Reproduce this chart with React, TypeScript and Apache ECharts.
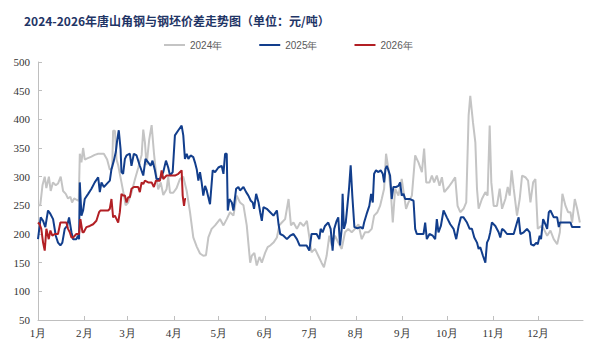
import React, { useEffect, useRef } from "react";
import * as echarts from "echarts";

const monthLabels = ["1月", "2月", "3月", "4月", "5月", "6月", "7月", "8月", "9月", "10月", "11月", "12月"];
const monthStartDays = [0, 31, 60, 91, 121, 152, 182, 213, 244, 274, 305, 335];
const seriesNames = ["2024年", "2025年", "2026年"];

const days2024 = [0, 1.5, 3, 4.5, 5.6, 7.3, 8.5, 10, 11.9, 13.4, 15.2, 16.8, 18.6, 20.1, 21.7, 22.8, 24.2, 25.7, 27.3, 28, 29.1, 30.2, 31.3, 33, 35.8, 38, 40.3, 44.1, 46.3, 48.1, 49.7, 50.3, 51.5, 52.6, 53.7, 55.9, 57.5, 58.7, 60.4, 62.6, 64.9, 67.1, 69.4, 70.5, 71.6, 72.7, 74.5, 76.1, 77.7, 79.4, 80.5, 82.2, 83.9, 86.1, 87.2, 88.4, 90.6, 92.8, 95.1, 97.3, 99.6, 101.8, 104, 106.3, 108.5, 110.7, 112.5, 114.1, 116.3, 118.6, 121.9, 124.2, 126.4, 128.6, 130.9, 133.1, 135.3, 137.6, 139.8, 142.1, 143.2, 144.9, 146.5, 148.3, 149.9, 152.1, 153.8, 155.5, 157.7, 160, 161.6, 163.3, 165.5, 167.8, 169.4, 171.1, 173.4, 175.6, 177.9, 180.1, 183.2, 185.5, 187.7, 189.9, 191.5, 193.3, 195.1, 196.7, 198.9, 201.1, 203.4, 205.6, 207.8, 210.1, 212.3, 214.6, 216.8, 219, 221.3, 223.5, 225.1, 227.3, 229.1, 230.2, 231.8, 233.1, 234.7, 236.3, 237.6, 239.2, 241.4, 243.6, 245.2, 246.5, 248.1, 250.4, 252.6, 254.8, 257.1, 258.6, 260, 262.2, 263.8, 265.3, 267.1, 268.9, 270.5, 272.1, 275, 277.2, 279.4, 281, 282.8, 285, 286.8, 288.4, 289.5, 291.3, 292.9, 294, 295.1, 297.3, 299.6, 301.1, 302.5, 303.6, 305.2, 307.4, 309.2, 310.8, 313, 314.6, 315.9, 317.2, 318.6, 320.8, 322.6, 324.2, 326.4, 328.2, 329.8, 331.6, 333.1, 334.7, 337, 338.7, 341, 343.2, 345.4, 347.7, 349.5, 351.2, 353.3, 355, 356.6, 357.7, 359.5, 361.1, 362.9];
const values2024 = [250, 250, 285, 300, 280, 300, 275, 290, 285, 288, 300, 275, 270, 262, 265, 255, 262, 260, 258, 340, 325, 350, 330, 332, 335, 338, 340, 340, 330, 312, 315, 380, 380, 330, 320, 290, 268, 250, 255, 272, 295, 315, 338, 382, 360, 320, 365, 390, 340, 298, 278, 290, 268, 278, 300, 272, 272, 280, 296, 300, 275, 238, 194, 178, 166, 162, 163, 194, 209, 215, 226, 215, 226, 238, 232, 267, 255, 250, 215, 150, 162, 167, 145, 160, 150, 167, 177, 180, 185, 194, 215, 220, 226, 261, 215, 220, 209, 220, 214, 223, 168, 174, 162, 150, 142, 162, 197, 180, 197, 185, 174, 203, 209, 203, 209, 217, 191, 203, 203, 209, 232, 238, 249, 261, 279, 340, 313, 273, 220, 279, 267, 296, 267, 244, 255, 267, 337, 325, 308, 349, 290, 290, 302, 290, 302, 284, 299, 273, 282, 290, 299, 249, 238, 244, 255, 407, 441, 395, 360, 279, 244, 261, 273, 267, 389, 290, 249, 249, 279, 244, 261, 282, 267, 311, 279, 232, 261, 302, 299, 293, 255, 290, 296, 209, 214, 209, 197, 206, 191, 182, 203, 270, 249, 238, 238, 220, 261, 244, 220];

const days2025 = [0, 1.8, 3.4, 4.9, 6.7, 8.3, 10.1, 11.9, 13.4, 15, 16.3, 17.9, 19.5, 20.8, 22.4, 23.5, 25.7, 26.8, 27.5, 28, 29.1, 30.2, 31.3, 33.6, 35.8, 38, 40.3, 41.4, 42.5, 44.1, 45.9, 48.1, 49.2, 50.8, 52.1, 53, 54.1, 55.3, 55.9, 57, 58.2, 59.3, 61.5, 62.6, 64.2, 66, 68.2, 70.5, 72, 73.8, 75.4, 76.7, 78.3, 79.4, 81.7, 83.9, 85.7, 87.2, 88.4, 90.2, 91.7, 94, 96.2, 97.3, 98.4, 99.6, 100.7, 102.2, 104, 105.1, 106.3, 107.4, 108.5, 109.6, 110.7, 111.9, 113, 115.2, 117, 118.6, 120.8, 123, 124.2, 125.3, 126.4, 127.1, 128.2, 129.8, 130.9, 132.7, 134.2, 135.3, 137.6, 139.4, 140.9, 142.5, 143.8, 144.7, 146.1, 147.7, 148.8, 149.9, 151, 153.2, 155.5, 157.7, 160, 161.1, 162.2, 164.4, 166.7, 168.9, 171.1, 173.4, 175.2, 176.7, 179, 179.9, 181.7, 183.2, 186.6, 188.4, 189.3, 190.6, 192.2, 194.4, 196, 197.3, 198.4, 200, 201.1, 202.3, 203.4, 204, 204.9, 206.1, 207.2, 208.3, 209.4, 210.5, 211.9, 213.9, 216.1, 217.5, 218.4, 220.1, 221.9, 223.1, 224.2, 225.1, 226.4, 228, 229.5, 230.9, 231.8, 232.7, 233.6, 234.7, 235.8, 236.9, 238, 239.8, 241.4, 242.5, 243.6, 244.8, 245.9, 247.4, 249.2, 251.5, 252.6, 253.7, 255.9, 258.2, 259.3, 260.4, 262.2, 264.4, 266, 267.1, 268.2, 269.8, 271.6, 273.8, 276.1, 278.3, 280.1, 281.7, 283.2, 285, 287.3, 289.1, 290.6, 292.2, 294, 295.1, 296.2, 298, 299.6, 300.7, 301.8, 302.9, 304, 306.3, 308.5, 309.6, 310.8, 312.3, 314.1, 316.3, 318.6, 320.8, 321.9, 323.1, 325.3, 327.5, 329.3, 330.2, 332, 333.8, 334.7, 336, 336.9, 338.3, 339.8, 341, 342.1, 343.2, 345.4, 347.7, 348.8, 349.5, 351, 354.4, 356.6, 357.7, 363.3];
const values2025 = [191, 229, 223, 212, 241, 235, 226, 197, 185, 180, 185, 209, 214, 229, 203, 191, 191, 197, 191, 290, 232, 241, 261, 270, 279, 290, 299, 273, 290, 282, 287, 293, 313, 328, 343, 363, 381, 348, 308, 305, 331, 337, 340, 319, 340, 337, 319, 302, 331, 325, 319, 328, 311, 296, 296, 308, 328, 316, 302, 308, 372, 381, 389, 372, 331, 340, 331, 337, 334, 325, 313, 293, 308, 290, 267, 284, 276, 252, 311, 308, 316, 319, 305, 340, 340, 241, 261, 255, 241, 279, 282, 276, 282, 273, 267, 258, 255, 244, 270, 255, 238, 223, 247, 244, 238, 232, 241, 217, 200, 197, 191, 197, 200, 191, 180, 180, 180, 180, 171, 200, 200, 191, 209, 203, 214, 220, 209, 171, 209, 223, 229, 180, 209, 270, 209, 220, 249, 279, 320, 267, 212, 210, 212, 209, 220, 235, 249, 270, 255, 305, 311, 308, 311, 305, 290, 313, 319, 311, 302, 261, 282, 282, 284, 290, 267, 270, 261, 261, 261, 258, 209, 200, 200, 200, 220, 191, 200, 197, 191, 226, 203, 214, 241, 229, 217, 209, 191, 214, 229, 229, 220, 209, 209, 194, 185, 174, 177, 162, 150, 185, 191, 203, 220, 214, 203, 194, 209, 206, 200, 200, 200, 220, 229, 200, 203, 209, 203, 182, 180, 185, 182, 197, 191, 226, 217, 209, 238, 241, 229, 229, 212, 220, 220, 220, 220, 212, 212];

const days2026 = [0, 1.1, 2.2, 3.4, 4.5, 5.6, 7.2, 8.3, 9.6, 11.2, 13.4, 15, 16.8, 19, 20.1, 21.3, 22.4, 23.5, 25.7, 27.5, 28.4, 29.8, 30.6, 32.4, 34.7, 36.9, 39.1, 40.9, 41.8, 43.6, 45.4, 47, 48.1, 49.2, 50.3, 51.5, 52.6, 53.7, 54.8, 55.9, 57, 58.2, 59.3, 60.4, 61.5, 62.6, 64.2, 65.5, 67.1, 68.2, 69.4, 70.5, 71.6, 73.8, 76.1, 77.6, 79, 80.5, 81.7, 82.8, 83.9, 85, 86.1, 88.4, 90.2, 91.7, 94, 96.2, 96.9, 97.8, 98.4, 99.1];
const values2026 = [220, 217, 209, 185, 171, 209, 191, 206, 197, 200, 200, 220, 220, 220, 209, 203, 194, 194, 200, 200, 226, 203, 203, 212, 214, 217, 223, 238, 241, 241, 241, 241, 244, 261, 229, 232, 226, 220, 238, 270, 267, 267, 255, 264, 264, 279, 282, 282, 282, 273, 290, 287, 293, 290, 290, 282, 293, 293, 293, 311, 296, 299, 302, 302, 302, 302, 305, 311, 267, 249, 261, 261];

const zip = (d: number[], v: number[]) => d.map((x, i) => [x, v[i]]);

export default function App() {
  const ref = useRef<HTMLDivElement>(null);
  useEffect(() => {
    if (!ref.current) return;
    const chart = echarts.init(ref.current, null, { renderer: "svg" });
    const serif = "Times New Roman, Liberation Serif, serif";
    chart.setOption({
      animation: false,
      backgroundColor: "#ffffff",
      title: {
        text: "2024-2026年唐山角钢与钢坯价差走势图（单位：元/吨）",
        left: 19,
        top: 9,
        textStyle: {
          fontSize: 12,
          fontWeight: "bold",
          color: "#1f3566",
          fontFamily: "Noto Sans CJK SC",
        },
      },
      legend: {
        data: seriesNames,
        left: 159,
        top: 35,
        icon: "rect",
        itemWidth: 21,
        itemHeight: 2,
        itemGap: 37,
        textStyle: { fontSize: 10, color: "#595959", fontFamily: "Liberation Sans" },
      },
      grid: { left: 38, right: 17, top: 62, bottom: 37, containLabel: false },
      xAxis: {
        type: "value",
        min: 0,
        max: 365,
        axisLine: { lineStyle: { color: "#bfbfbf", width: 1 } },
        axisTick: { inside: true, length: 4, lineStyle: { color: "#bfbfbf" }, customValues: monthStartDays },
        axisLabel: {
          customValues: monthStartDays,
          formatter: (v: number) => {
            const i = monthStartDays.indexOf(Math.round(v));
            return i >= 0 ? monthLabels[i] : "";
          },
          color: "#333333",
          fontSize: 11,
          fontFamily: serif,
          margin: 7,
        },
        splitLine: { show: false },
      },
      yAxis: {
        type: "value",
        min: 50,
        max: 500,
        interval: 50,
        axisLine: { show: true, lineStyle: { color: "#bfbfbf", width: 1 } },
        axisTick: { show: true, inside: true, length: 4, lineStyle: { color: "#bfbfbf" } },
        axisLabel: { color: "#333333", fontSize: 11, fontFamily: serif, margin: 8 },
        splitLine: { show: false },
      },
      series: [
        {
          name: seriesNames[0],
          type: "line",
          data: zip(days2024, values2024),
          showSymbol: false,
          lineStyle: { color: "#c4c4c4", width: 2 },
          itemStyle: { color: "#c4c4c4" },
          z: 1,
        },
        {
          name: seriesNames[1],
          type: "line",
          data: zip(days2025, values2025),
          showSymbol: false,
          lineStyle: { color: "#123e8c", width: 2 },
          itemStyle: { color: "#123e8c" },
          z: 2,
        },
        {
          name: seriesNames[2],
          type: "line",
          data: zip(days2026, values2026),
          showSymbol: false,
          lineStyle: { color: "#b21f24", width: 2 },
          itemStyle: { color: "#b21f24" },
          z: 3,
        },
      ],
    });
    return () => chart.dispose();
  }, []);
  return <div ref={ref} style={{ position: "fixed", left: 0, top: 0, width: 600, height: 357 }} />;
}
